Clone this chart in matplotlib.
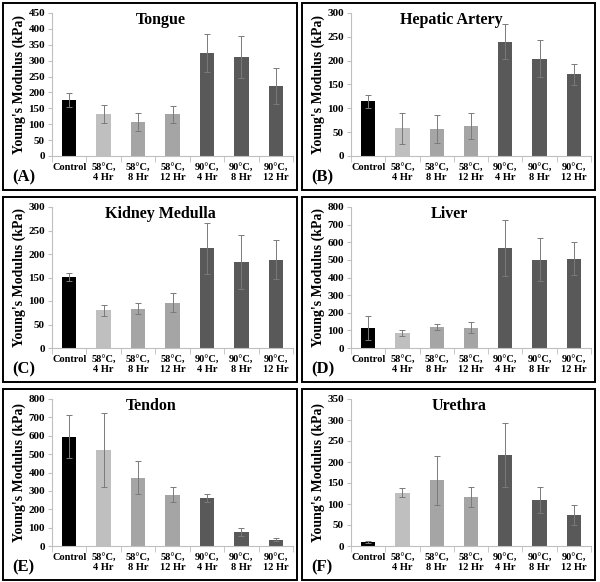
import numpy as np
import matplotlib
matplotlib.use("Agg")
import matplotlib.pyplot as plt
from matplotlib.patches import Rectangle

categories = ["Control", "58°C,\n4 Hr", "58°C,\n8 Hr", "58°C,\n12 Hr", "90°C,\n4 Hr", "90°C,\n8 Hr", "90°C,\n12 Hr"]

titles = ["Tongue", "Hepatic Artery", "Kidney Medulla", "Liver", "Tendon", "Urethra"]
letters = ["(A)", "(B)", "(C)", "(D)", "(E)", "(F)"]
ymax = [450, 300, 300, 800, 800, 350]
ystep = [50, 50, 50, 100, 100, 50]

tongue = [176, 132, 108, 131, 324, 312, 221]
tongue_err = [21, 27, 28, 26, 60, 66, 56]
hepatic = [115, 58, 57, 63, 240, 204, 171]
hepatic_err = [14, 33, 29, 28, 36, 39, 22]
kidney = [151, 80, 84, 96, 212, 183, 188]
kidney_err = [9, 12, 12, 20, 55, 57, 41]
liver = [112, 86, 117, 116, 567, 502, 507]
liver_err = [69, 17, 17, 33, 159, 123, 94]
tendon = [595, 522, 371, 278, 261, 75, 34]
tendon_err = [118, 202, 90, 41, 21, 22, 9]
urethra = [9, 127, 156, 116, 217, 109, 74]
urethra_err = [3, 10, 59, 24, 77, 31, 23]

values = [tongue, hepatic, kidney, liver, tendon, urethra]
errors = [tongue_err, hepatic_err, kidney_err, liver_err, tendon_err, urethra_err]

bar_colors = ["#000000", "#bfbfbf", "#a5a5a5", "#a5a5a5", "#595959", "#595959", "#595959"]
title_x = [0.45, 0.42, 0.45, 0.41, 0.41, 0.45]

plt.rcParams['font.family'] = ['Liberation Serif', 'DejaVu Serif']
plt.rcParams['font.weight'] = 'bold'

W, H = 600, 582
fig = plt.figure(figsize=(W / 100, H / 100), dpi=100)

cols = [(3, 297), (302, 595)]
rows = [(3, 190), (197, 382), (389, 580)]

def fig_box(x0, y0, x1, y1):
	# pixel box (top-left origin) -> figure fraction rect
	return [x0 / W, 1 - y1 / H, (x1 - x0) / W, (y1 - y0) / H]

x = np.arange(len(categories))

for i in range(6):
	cx0, cx1 = cols[i % 2]
	ry0, ry1 = rows[i // 2]
	fig.patches.append(Rectangle((cx0 / W, 1 - ry1 / H), (cx1 - cx0) / W, (ry1 - ry0) / H,
		transform=fig.transFigure, fill=False, edgecolor="black", linewidth=1.4))
	fig.text((cx0 + 9) / W, 1 - (ry1 - 13) / H, letters[i], fontsize=12, fontweight="bold", va="center", ha="left")

	ax = fig.add_axes(fig_box(cx0 + 49, ry0 + 10, cx1 - 4, ry1 - 34))
	ax.bar(x, values[i], width=0.42, color=bar_colors, zorder=2)
	ax.errorbar(x, values[i], yerr=errors[i], fmt="none", ecolor="#7a7a7a", elinewidth=0.7, capsize=2, capthick=0.7, zorder=3)
	ax.set_xlim(-0.5, 6.5)
	ax.set_ylim(0, ymax[i])
	ax.set_yticks(np.arange(0, ymax[i] + 1, ystep[i]))
	ax.set_xticks(x)
	ax.set_xticklabels(categories, fontsize=7.5, fontweight="bold", linespacing=1.15)
	ax.set_xticks(np.arange(-0.5, 7, 1), minor=True)
	ax.tick_params(axis="x", which="major", length=0, pad=5)
	ax.tick_params(axis="x", which="minor", length=4, color="#bfbfbf")
	ax.tick_params(axis="y", length=3, color="#bfbfbf", pad=2, labelsize=8)
	for lab in ax.get_yticklabels():
		lab.set_fontweight("bold")
	for s in ["top", "right"]:
		ax.spines[s].set_visible(False)
	for s in ["left", "bottom"]:
		ax.spines[s].set_color("#bfbfbf")
	ax.set_ylabel("Young's Modulus (kPa)", fontsize=10, fontweight="bold", labelpad=2)
	ax.text(title_x[i], 1 - 7 / (ry1 - ry0 - 44), titles[i], transform=ax.transAxes, fontsize=11.5,
		fontweight="bold", ha="center", va="center")

plt.savefig("out.png", dpi=100)
